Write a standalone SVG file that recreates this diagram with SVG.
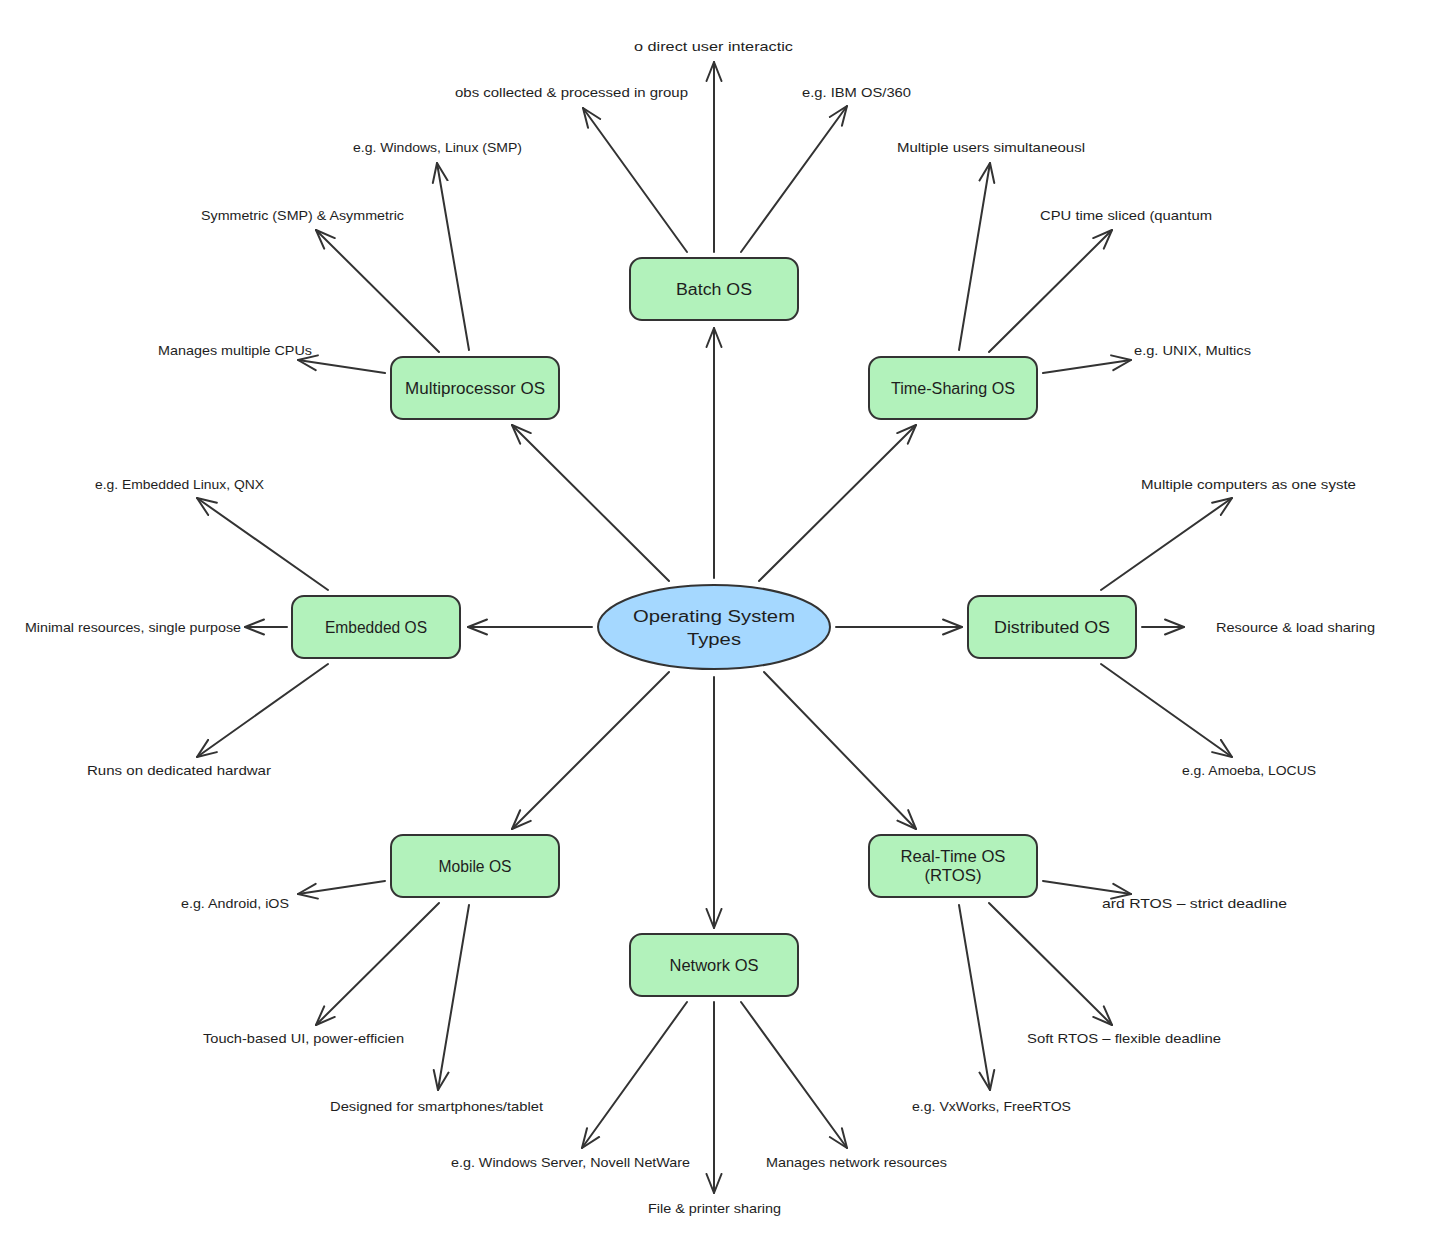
<svg xmlns="http://www.w3.org/2000/svg" width="1446" height="1254" viewBox="0 0 1446 1254">
<defs>
<marker id="arr" viewBox="0 0 22 18" refX="20" refY="9" markerWidth="22" markerHeight="18" markerUnits="userSpaceOnUse" orient="auto">
<path d="M1,1.5 L20,9 L1,16.5" fill="none" stroke="#333" stroke-width="2" stroke-linecap="round" stroke-linejoin="round"/>
</marker>
<style>
.n rect{fill:#b2f2bb;stroke:#333;stroke-width:2}
.n ellipse{fill:#a5d8ff;stroke:#333;stroke-width:2}
.nt{font-family:"Liberation Sans",Arial,sans-serif;font-size:16px;fill:#1e1e1e;text-anchor:middle}
.lb{font-family:"Liberation Sans",Arial,sans-serif;font-size:13px;fill:#1e1e1e}
#edges line{stroke:#333;stroke-width:2;marker-end:url(#arr);stroke-linecap:round}
</style>
</defs>
<rect width="1446" height="1254" fill="#ffffff"/>
<g id="edges">
<line x1="714" y1="578" x2="714" y2="328"/>
<line x1="669" y1="581" x2="512" y2="425"/>
<line x1="759" y1="581" x2="916" y2="425"/>
<line x1="592" y1="627" x2="468" y2="627"/>
<line x1="836" y1="627" x2="962" y2="627"/>
<line x1="669" y1="672" x2="512" y2="829"/>
<line x1="764" y1="672" x2="916" y2="829"/>
<line x1="714" y1="677" x2="714" y2="928"/>
<line x1="687" y1="252" x2="583" y2="108"/>
<line x1="714" y1="252" x2="714" y2="62"/>
<line x1="741" y1="252" x2="847" y2="106"/>
<line x1="469" y1="350" x2="437" y2="163"/>
<line x1="439" y1="352" x2="316" y2="230"/>
<line x1="385" y1="373" x2="298" y2="360"/>
<line x1="959" y1="350" x2="990" y2="163"/>
<line x1="989" y1="352" x2="1112" y2="230"/>
<line x1="1043" y1="373" x2="1131" y2="360"/>
<line x1="328" y1="590" x2="197" y2="498"/>
<line x1="287" y1="627" x2="245" y2="627"/>
<line x1="328" y1="664" x2="197" y2="757"/>
<line x1="1101" y1="590" x2="1232" y2="498"/>
<line x1="1142" y1="627" x2="1184" y2="627"/>
<line x1="1101" y1="664" x2="1232" y2="757"/>
<line x1="385" y1="881" x2="298" y2="894"/>
<line x1="439" y1="903" x2="316" y2="1025"/>
<line x1="469" y1="905" x2="438" y2="1090"/>
<line x1="1043" y1="881" x2="1131" y2="894"/>
<line x1="989" y1="903" x2="1112" y2="1025"/>
<line x1="959" y1="905" x2="990" y2="1090"/>
<line x1="687" y1="1002" x2="582" y2="1148"/>
<line x1="714" y1="1002" x2="714" y2="1193"/>
<line x1="741" y1="1002" x2="847" y2="1148"/>
</g>
<g id="center" class="n"><ellipse cx="714" cy="627" rx="116" ry="42"/>
<text class="nt" x="714" y="622" font-size="18" textLength="162" lengthAdjust="spacingAndGlyphs">Operating System</text>
<text class="nt" x="714" y="645" font-size="18" textLength="54" lengthAdjust="spacingAndGlyphs">Types</text></g>
<g id="batch" class="n"><rect x="630" y="258" width="168" height="62" rx="12"/><text class="nt" x="714" y="295" textLength="76" lengthAdjust="spacingAndGlyphs">Batch OS</text></g>
<g id="multiprocessor" class="n"><rect x="391" y="357" width="168" height="62" rx="12"/><text class="nt" x="475" y="394" textLength="140" lengthAdjust="spacingAndGlyphs">Multiprocessor OS</text></g>
<g id="timesharing" class="n"><rect x="869" y="357" width="168" height="62" rx="12"/><text class="nt" x="953" y="394" textLength="124" lengthAdjust="spacingAndGlyphs">Time-Sharing OS</text></g>
<g id="embedded" class="n"><rect x="292" y="596" width="168" height="62" rx="12"/><text class="nt" x="376" y="633" textLength="102" lengthAdjust="spacingAndGlyphs">Embedded OS</text></g>
<g id="distributed" class="n"><rect x="968" y="596" width="168" height="62" rx="12"/><text class="nt" x="1052" y="633" textLength="116" lengthAdjust="spacingAndGlyphs">Distributed OS</text></g>
<g id="mobile" class="n"><rect x="391" y="835" width="168" height="62" rx="12"/><text class="nt" x="475" y="872" textLength="73" lengthAdjust="spacingAndGlyphs">Mobile OS</text></g>
<g id="rtos" class="n"><rect x="869" y="835" width="168" height="62" rx="12"/><text class="nt" x="953" y="862" textLength="105" lengthAdjust="spacingAndGlyphs">Real-Time OS</text><text class="nt" x="953" y="881" textLength="57" lengthAdjust="spacingAndGlyphs">(RTOS)</text></g>
<g id="network" class="n"><rect x="630" y="934" width="168" height="62" rx="12"/><text class="nt" x="714" y="971" textLength="89" lengthAdjust="spacingAndGlyphs">Network OS</text></g>
<g id="labels">
<text class="lb" x="634" y="51" textLength="159" lengthAdjust="spacingAndGlyphs">o direct user interactic</text>
<text class="lb" x="455" y="97" textLength="233" lengthAdjust="spacingAndGlyphs">obs collected &amp; processed in group</text>
<text class="lb" x="802" y="97" textLength="109" lengthAdjust="spacingAndGlyphs">e.g. IBM OS/360</text>
<text class="lb" x="353" y="152" textLength="169" lengthAdjust="spacingAndGlyphs">e.g. Windows, Linux (SMP)</text>
<text class="lb" x="201" y="220" textLength="203" lengthAdjust="spacingAndGlyphs">Symmetric (SMP) &amp; Asymmetric</text>
<text class="lb" x="158" y="355" textLength="154" lengthAdjust="spacingAndGlyphs">Manages multiple CPUs</text>
<text class="lb" x="897" y="152" textLength="188" lengthAdjust="spacingAndGlyphs">Multiple users simultaneousl</text>
<text class="lb" x="1040" y="220" textLength="172" lengthAdjust="spacingAndGlyphs">CPU time sliced (quantum</text>
<text class="lb" x="1134" y="355" textLength="117" lengthAdjust="spacingAndGlyphs">e.g. UNIX, Multics</text>
<text class="lb" x="95" y="489" textLength="169" lengthAdjust="spacingAndGlyphs">e.g. Embedded Linux, QNX</text>
<text class="lb" x="25" y="632" textLength="216" lengthAdjust="spacingAndGlyphs">Minimal resources, single purpose</text>
<text class="lb" x="87" y="775" textLength="184" lengthAdjust="spacingAndGlyphs">Runs on dedicated hardwar</text>
<text class="lb" x="1141" y="489" textLength="215" lengthAdjust="spacingAndGlyphs">Multiple computers as one syste</text>
<text class="lb" x="1216" y="632" textLength="159" lengthAdjust="spacingAndGlyphs">Resource &amp; load sharing</text>
<text class="lb" x="1182" y="775" textLength="134" lengthAdjust="spacingAndGlyphs">e.g. Amoeba, LOCUS</text>
<text class="lb" x="181" y="908" textLength="108" lengthAdjust="spacingAndGlyphs">e.g. Android, iOS</text>
<text class="lb" x="203" y="1043" textLength="201" lengthAdjust="spacingAndGlyphs">Touch-based UI, power-efficien</text>
<text class="lb" x="330" y="1111" textLength="213" lengthAdjust="spacingAndGlyphs">Designed for smartphones/tablet</text>
<text class="lb" x="1102" y="908" textLength="185" lengthAdjust="spacingAndGlyphs">ard RTOS – strict deadline</text>
<text class="lb" x="1027" y="1043" textLength="194" lengthAdjust="spacingAndGlyphs">Soft RTOS – flexible deadline</text>
<text class="lb" x="912" y="1111" textLength="159" lengthAdjust="spacingAndGlyphs">e.g. VxWorks, FreeRTOS</text>
<text class="lb" x="451" y="1167" textLength="239" lengthAdjust="spacingAndGlyphs">e.g. Windows Server, Novell NetWare</text>
<text class="lb" x="648" y="1213" textLength="133" lengthAdjust="spacingAndGlyphs">File &amp; printer sharing</text>
<text class="lb" x="766" y="1167" textLength="181" lengthAdjust="spacingAndGlyphs">Manages network resources</text>
</g>
</svg>
